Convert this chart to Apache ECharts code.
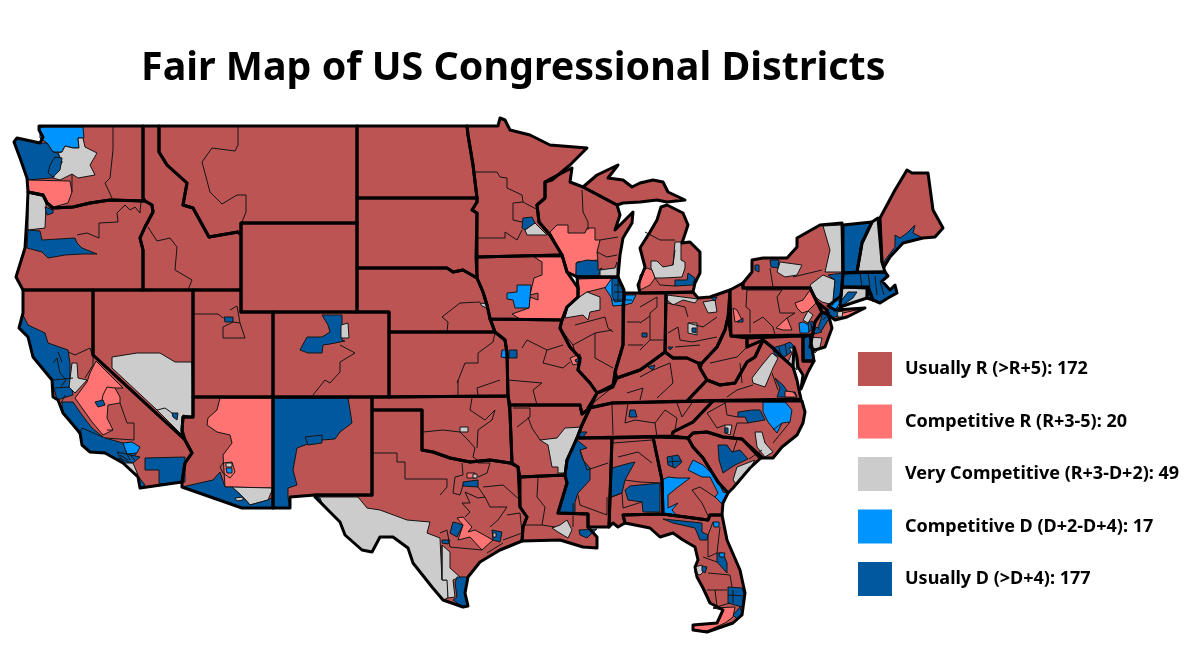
<!DOCTYPE html>
<html>
<head>
<meta charset="utf-8">
<title>Fair Map of US Congressional Districts</title>
<script src="https://cdn.jsdelivr.net/npm/echarts@6/dist/echarts.min.js"></script>
<style>
html, body { margin: 0; background: #fff; }
#main { width: 1200px; height: 650px; }
</style>
</head>
<body>
<div id="main"></div>
<script>
// legend
var bucketLabels = ['Usually R (>R+5)', 'Competitive R (R+3-5)', 'Very Competitive (R+3-D+2)', 'Competitive D (D+2-D+4)', 'Usually D (>D+4)'];
var bucketCounts = [172, 20, 49, 17, 177];
var bucketColors = ['#bc5454', '#ff7373', '#cccccc', '#0094ff', '#00599f'];

// which drawn area falls in which bucket, everything else is Usually R
var competitiveR = ['WA-c', 'CA-v', 'AZ-c', 'WI-c', 'IA-c', 'IL-s', 'MO-s', 'TX-c', 'TX-d', 'MI-c', 'PA-e', 'PA-c', 'PA-w', 'VA-n', 'NY-l', 'FL-s'];
var veryCompetitive = ['WA-g', 'OR-g', 'NV-g', 'CA-g', 'CA-o', 'AZ-s', 'AZ-b', 'AZ-t', 'TX-g', 'TX-h', 'TX-f', 'TX-p', 'OK-g', 'CO-g', 'NE-g', 'MN-g', 'WI-g', 'IL-g', 'AR-g', 'LA-g', 'SC-g', 'NC-g', 'NC-t', 'VA-g', 'MD-g', 'NJ-g', 'PA-g', 'NY-g', 'NY-a', 'NY-c', 'NH-g', 'CT-g', 'NY-i', 'MI-g', 'OH-n', 'OH-e', 'OH-c', 'FL-t'];
var competitiveD = ['WA-n', 'CA-s', 'AZ-d', 'IA-d', 'IL-c', 'KS-d', 'GA-w', 'GA-e', 'GA-s', 'NC-d', 'PA-d', 'NY-h', 'FL-o'];
var usuallyD = ['WA-w', 'WA-s', 'OR-p', 'OR-w', 'UT-b', 'CO-b', 'NV-b', 'CA-n', 'CA-f', 'CA-m', 'CA-l', 'CA-a', 'CA-d', 'CA-i', 'AZ-w', 'NM-b', 'NM-a', 'TX-e', 'TX-r', 'TX-a', 'TX-u', 'TX-y', 'TX-o', 'KS-b', 'MN-b', 'WI-b', 'IL-b', 'MO-b', 'MS-b', 'TN-m', 'LA-b', 'AL-b', 'AL-m', 'GA-a', 'SC-b', 'NC-b', 'NC-u', 'TN-b', 'VA-b', 'DC-b', 'DE-b', 'NY-b', 'NJ-b', 'NJ-s', 'NY-n', 'NY-f', 'NY-r', 'VT-b', 'ME-b', 'MA-b', 'CT-b', 'RI-b', 'MI-b', 'OH-t', 'OH-i', 'IN-b', 'KY-b', 'OH-s', 'FL-n', 'FL-c', 'FL-m', 'FL-l', 'FL-b', 'PA-b'];

// state outlines as flat x,y runs, in the map's own units
var stateOutlines = {
  WA: [39,126,143,126,143,198,145,201,110,200,90,203,73,207,53,208,47,203,43,195,28,192,27,178,20,158,14,142,17,138,40,143,43,137,39,130],
  ID: [143,126,159,126,159,152,167,165,187,183,183,205,193,208,209,237,238,232,241,235,241,290,143,290,143,250,140,238,145,227,153,212,152,205,145,201,143,198],
  MT: [159,126,357,126,357,223,241,223,241,235,238,232,209,237,193,208,183,205,187,183,167,165,159,152],
  WY: [241,223,357,223,357,312,241,312],
  UT: [193,290,241,290,241,312,273,312,273,397,193,397],
  CO: [273,312,389,312,389,397,273,397],
  ND: [357,126,467,126,468,135,473,165,477,198,357,198],
  SD: [357,198,477,198,477,202,472,210,477,213,476,257,477,278,463,270,453,272,447,268,357,268],
  NE: [357,268,447,268,453,272,463,270,477,278,483,292,487,305,490,318,495,332,389,332,389,312,357,312],
  KS: [389,332,495,332,505,340,507,353,508,396,389,397],
  NM: [273,397,372,397,372,495,315,495,290,497,290,508,273,508],
  AZ: [193,397,273,397,273,508,242,508,182,487,182,482,185,463,192,453,185,440,182,430,183,417,193,417],
  NV: [93,290,193,290,193,417,183,417,182,430,182,437,93,355],
  OR: [28,192,43,195,47,203,53,208,73,207,90,203,110,200,145,201,152,205,153,212,145,227,140,238,143,250,143,290,23,290,16,277,25,248,27,215],
  CA: [23,290,93,290,93,355,182,437,185,440,192,453,185,463,182,482,140,488,138,477,123,463,105,453,90,452,82,445,80,433,63,413,58,400,53,397,52,380,33,357,28,337,19,328,23,313,23,303],
  TX: [372,410,422,410,422,450,433,452,450,458,470,462,490,460,510,463,518,467,520,507,527,517,523,527,522,541,500,550,480,562,468,577,465,593,468,606,463,607,443,600,432,587,413,563,408,548,393,537,380,537,372,552,362,550,345,535,340,522,315,497,315,495,372,495],
  OK: [372,397,508,396,510,413,512,463,510,463,490,460,470,462,450,458,433,452,422,450,422,410,372,410],
  MN: [467,126,498,126,500,118,505,120,510,130,530,135,550,145,587,148,570,165,552,180,545,182,545,198,537,205,539,222,550,235,562,255,477,257,477,213,472,210,477,202,477,198,473,165,468,135],
  IA: [477,257,562,255,567,272,578,288,578,297,567,307,562,320,490,319,487,305,483,292,477,278],
  MO: [490,319,562,320,560,328,570,347,580,358,578,370,590,383,597,393,590,408,582,414,580,405,510,405,508,396,507,353,505,340,495,332],
  AR: [510,405,580,405,582,414,590,408,582,425,577,438,567,460,565,475,520,477,518,467,512,463,510,413],
  LA: [520,477,565,475,567,483,558,513,588,514,588,527,597,537,597,548,583,547,560,540,522,541,523,527,527,517,520,507],
  MS: [577,438,612,438,609,527,588,527,588,514,558,513,567,483,565,475,567,460],
  AL: [612,438,653,437,662,480,663,514,623,515,625,523,618,527,613,523,609,527],
  TN: [590,408,612,403,713,401,693,422,673,432,672,436,577,438,582,425],
  IL: [577,277,618,277,624,290,623,345,615,372,613,385,597,393,590,383,578,370,580,358,570,347,560,328,562,320,567,307,578,297,578,288],
  WI: [545,182,552,178,572,168,570,182,583,187,617,205,620,215,615,230,633,212,632,223,623,238,620,255,618,277,577,277,567,272,562,255,550,235,539,222,537,205,545,198],
  'MI-U': [583,187,597,175,618,165,608,178,623,180,632,187,640,183,653,180,663,182,668,192,685,200,667,202,657,200,640,202,623,203,617,205],
  'MI-L': [661,207,667,205,683,213,688,225,682,243,690,242,700,252,700,273,695,283,693,292,640,293,638,285,645,267,640,248,650,232,657,220],
  IN: [625,293,666,293,665,352,650,363,640,370,617,378,615,372,623,345,623,305],
  OH: [666,293,693,292,698,298,710,297,730,290,728,317,725,330,717,347,702,363,698,363,687,358,673,358,665,352],
  KY: [588,408,597,393,613,387,617,378,640,370,650,363,665,352,673,358,687,358,698,363,700,368,707,380,687,401,612,403],
  WV: [728,317,731,336,747,338,747,347,763,340,755,357,747,362,735,383,720,385,707,380,700,368,702,363,717,347,725,330],
  VA: [687,401,707,380,720,385,735,383,747,362,755,357,763,340,773,348,783,358,793,367,797,380,799,390,801,399],
  MD: [747,338,803,336,803,361,814,361,808,372,801,389,803,375,798,367,797,357,794,347,793,367,783,358,773,348,763,340,747,347],
  DE: [803,337,810,335,814,361,803,361],
  PA: [730,290,743,283,743,288,810,288,815,298,822,312,815,322,813,333,811,335,731,336],
  NJ: [817,302,827,310,832,328,825,347,815,350,810,347,813,333,815,322,822,312],
  NY: [743,283,752,272,752,260,763,258,787,258,797,247,797,238,820,225,842,223,843,273,841,296,828,306,835,310,865,308,847,317,835,320,827,314,822,312,815,298,810,288,743,288],
  VT: [843,225,872,222,862,243,857,272,843,273],
  NH: [872,222,878,218,882,262,885,272,857,272,862,243],
  ME: [880,218,895,190,907,170,912,173,928,173,933,210,943,228,935,237,923,238,903,243,890,257,884,267,882,262],
  MA: [843,273,885,272,888,276,882,281,890,290,895,285,897,293,888,298,880,303,873,300,868,287,842,287],
  CT: [842,287,867,288,867,298,840,307,841,296],
  RI: [868,287,873,300,867,298],
  NC: [713,401,802,401,805,412,803,423,797,435,782,447,773,458,760,458,742,439,723,437,707,432,693,433,688,438,672,436,673,432,693,422],
  SC: [688,438,693,433,707,432,723,437,742,439,762,457,750,468,733,488,728,493,718,482,703,458,693,447],
  GA: [653,437,688,438,693,447,703,458,718,482,728,493,723,503,722,515,710,515,708,520,663,514,662,480],
  FL: [623,515,663,514,708,520,710,515,722,515,727,540,740,570,745,593,742,615,733,623,707,632,693,630,693,625,717,623,723,610,710,603,703,588,697,577,695,567,698,560,695,547,683,540,673,533,660,537,650,528,625,523]
};

// areas that are not Usually R, drawn over the states in this order
var districtOutlines = {
  'WA-n': [43,127,83,127,84,138,78,138,79,148,73,148,65,146,62,152,53,152,47,143,40,138,40,128],
  'WA-g': [78,138,83,138,85,147,97,153,90,165,95,175,78,178,72,174,60,180,53,178,62,162,58,153,62,152,65,146,73,148,79,148],
  'WA-w': [17,138,40,143,47,143,53,152,58,153,62,162,53,178,50,178,27,180,20,158,14,142],
  'WA-s': [50,165,55,157,62,158,60,170,53,177,48,173],
  'WA-c': [27,180,70,181,72,192,68,203,50,208,47,203,43,195,28,192],
  'OR-g': [28,193,45,197,46,205,45,228,28,230],
  'OR-p': [45,207,53,210,53,213,47,215],
  'OR-w': [28,230,40,231,42,240,75,238,77,243,82,248,97,254,82,254,65,255,48,258,42,252,27,248],
  'UT-b': [224,317,233,317,233,322,225,322],
  'CO-b': [322,315,342,315,342,340,345,341,330,344,323,345,322,353,308,353,300,350,307,337,322,337,330,332,328,325],
  'CO-g': [341,325,348,323,349,338,341,338],
  'NV-g': [112,357,137,353,160,353,175,362,192,362,193,417,183,415,182,435,157,410,112,368],
  'NV-b': [172,413,178,413,177,420,173,417],
  'CA-n': [23,315,28,325,45,333,48,343,68,350,70,363,70,378,73,395,57,400,52,380,33,357,28,337,19,328],
  'CA-g': [72,363,77,363,78,378,87,380,75,393,69,387],
  'CA-v': [96,361,123,388,115,388,120,397,120,403,108,405,107,418,113,430,103,435,92,422,75,398,87,382,90,373],
  'CA-f': [95,402,103,400,105,405,98,407],
  'CA-m': [62,402,73,402,82,415,92,428,103,437,85,432,80,435,63,413],
  'CA-l': [82,428,105,438,123,443,137,453,125,465,112,457,105,453,90,452,82,445,80,433],
  'CA-s': [123,443,132,442,140,447,137,453,127,454],
  'CA-a': [117,452,140,457,133,463,125,465],
  'CA-o': [123,463,133,463,138,475,131,470],
  'CA-d': [137,475,145,485,140,488],
  'CA-i': [145,458,185,457,185,482,159,484,159,470,145,470],
  'AZ-c': [220,398,273,398,273,488,225,487,223,455,232,443,230,435,217,432,207,425,208,418,217,410],
  'AZ-s': [232,487,273,488,268,500,250,505,243,497],
  'AZ-w': [182,487,213,480,220,472,225,487,232,487,243,497,250,505,268,500,273,497,273,508,242,508],
  'AZ-b': [235,498,243,497,243,500,237,501],
  'AZ-t': [226,463,232,463,232,467,226,467],
  'AZ-d': [226,468,232,468,232,473,227,473],
  'NM-b': [273,398,348,398,350,410,352,423,340,432,335,439,322,440,305,445,297,448,293,470,297,485,288,488,288,498,290,508,273,508],
  'NM-a': [305,437,322,435,322,443,308,445],
  'TX-g': [317,497,358,497,367,508,380,510,407,520,430,522,427,533,440,538,442,580,448,580,448,598,443,600,432,587,413,563,408,548,393,537,380,537,372,552,362,550,345,535,340,522],
  'TX-h': [442,545,450,552,450,568,460,577,453,580,455,597,448,598,447,580,442,580],
  'TX-r': [457,577,467,577,465,593,468,606,463,607,453,600,457,597,455,583],
  'TX-e': [315,496,320,498,322,503,317,500],
  'TX-a': [442,540,450,540,448,544,442,543],
  'TX-c': [457,518,463,517,472,527,468,532,475,530,493,540,482,550,470,537,458,540,463,525],
  'TX-u': [453,522,457,523,463,525,457,537,450,533],
  'TX-y': [463,482,478,480,478,487,463,486],
  'TX-d': [467,473,475,473,475,478,467,478],
  'TX-f': [473,474,477,474,477,478,473,478],
  'TX-o': [492,530,502,532,500,542,493,540],
  'TX-p': [493,533,496,533,496,537,493,537],
  'OK-g': [460,427,468,427,468,432,460,432],
  'NE-g': [480,303,487,304,487,308,482,306],
  'KS-d': [502,350,507,350,507,358,501,357],
  'KS-b': [509,350,517,350,517,358,509,358],
  'MN-b': [523,218,532,217,535,223,525,230,522,228],
  'MN-g': [525,230,535,223,547,235,527,235],
  'WI-c': [550,232,557,225,568,225,568,233,585,233,587,228,595,228,595,240,600,240,597,252,598,260,577,262,576,275,567,272,562,255],
  'WI-b': [576,263,587,260,598,261,598,270,602,268,598,276,576,276],
  'WI-g': [600,270,615,268,617,262,617,277,600,277],
  'IA-c': [534,257,562,257,567,272,578,288,578,297,567,307,562,320,520,319,512,314,529,308,530,297,538,300,538,293,530,295,534,278,542,275,542,262],
  'IL-s': [578,279,613,278,607,287,587,292,578,298,579,288],
  'IA-d': [517,285,531,285,530,297,529,308,515,308,513,300,507,299,507,293,517,292],
  'IL-g': [587,292,600,297,600,310,590,312,588,320,583,315,565,318,568,307,578,298],
  'IL-c': [605,288,612,278,623,285,623,295,636,295,632,303,625,305,613,306,611,297],
  'IL-b': [612,278,618,278,623,292,623,301,615,302,612,295],
  'MO-s': [570,358,580,354,581,363,573,365],
  'MO-b': [575,360,579,358,579,362,576,362],
  'AR-g': [540,440,557,438,565,428,582,427,575,440,565,473,558,473,558,467,552,467,548,445],
  'MS-b': [577,440,587,448,580,450,583,460,590,468,590,480,578,493,575,502,575,513,558,513,567,483,565,475,567,460],
  'TN-m': [580,432,587,432,583,437,578,437],
  'LA-g': [552,528,560,525,567,520,572,530,568,538,558,532],
  'LA-b': [579,530,597,529,590,535,587,538,580,535],
  'AL-b': [609,498,612,468,630,463,635,462,625,480,622,493],
  'AL-m': [625,490,630,486,660,483,660,512,643,512,642,502,628,500],
  'GA-w': [662,480,668,477,677,478,690,478,678,487,668,495,668,508,678,503,672,510,678,517,663,515],
  'GA-e': [688,470,693,460,703,465,717,478,723,492,727,493,723,505,715,497,718,493,710,477,702,477],
  'GA-a': [667,457,678,455,682,462,675,468,668,465],
  'SC-b': [718,445,727,445,732,452,740,450,748,459,735,465,723,473,719,460],
  'SC-g': [737,467,755,460,750,468,737,485,733,480],
  'NC-d': [763,402,785,402,792,410,790,422,782,423,777,433,768,422,763,412],
  'NC-b': [738,412,752,410,760,410,765,420,753,422,748,423,745,417,738,417],
  'NC-g': [755,432,762,432,765,443,773,452,765,457,757,447],
  'NC-t': [725,425,732,425,730,435,725,433],
  'NC-u': [725,428,728,428,728,433,725,433],
  'TN-b': [630,410,635,410,637,417,629,417],
  'VA-b': [775,378,783,385,788,392,795,392,797,397,777,397,780,388],
  'VA-n': [785,391,793,392,797,397,785,397],
  'VA-g': [772,353,778,358,773,368,765,387,753,383,752,378,762,365],
  'DC-b': [772,348,783,345,790,342,795,347,790,353,783,358,775,355],
  'MD-g': [789,348,795,348,797,370,788,362,792,353],
  'DE-b': [803,337,810,336,814,360,804,360],
  'NJ-g': [810,337,822,338,820,347,815,353,811,345],
  'PA-d': [799,323,803,322,813,327,808,333,800,333],
  'PA-g': [803,320,808,311,813,315,808,323],
  'NJ-b': [808,323,812,321,815,327,809,332],
  'PA-e': [795,303,803,300,810,290,816,303,808,311,802,313,797,308],
  'PA-c': [776,328,787,318,792,330,783,330],
  'PA-w': [733,308,737,310,742,320,735,322],
  'PA-b': [737,322,743,318,743,322],
  'NY-n': [819,325,823,313,832,307,843,308,840,315,828,320,822,330,818,332],
  'NJ-s': [810,335,817,327,822,332],
  'NY-h': [830,305,836,297,840,303,835,310],
  'NY-g': [823,226,842,225,842,272,825,272,830,250],
  'NY-a': [810,285,823,275,835,280,833,305,822,302,815,297],
  'NY-b': [828,275,843,273,842,287,840,297,833,300,835,280],
  'NY-f': [755,265,759,265,759,272,755,270],
  'NY-r': [770,260,779,260,778,268,771,267],
  'NY-c': [780,262,802,265,797,275,785,277,777,272],
  'VT-b': [843,225,872,222,862,243,857,272,843,273],
  'NH-g': [872,222,878,218,882,262,885,272,857,272,862,243],
  'ME-b': [885,260,895,247,895,235,900,238,907,233,915,225,913,233,923,238,903,243,890,257,884,267],
  'MA-b': [843,273,885,272,888,276,882,281,890,290,895,285,897,293,888,298,880,303,873,300,868,287,842,287],
  'CT-g': [842,287,867,288,867,298,840,307,841,296],
  'CT-b': [848,292,857,292,853,298,840,307,840,302],
  'RI-b': [868,287,873,300,867,298],
  'NY-l': [843,313,865,308,847,317,835,320],
  'NY-i': [837,312,843,311,842,317,838,317],
  'MI-g': [675,242,681,242,681,260,685,262,685,268,682,277,663,278,655,278,651,268,651,261,657,261,663,267,673,265],
  'MI-c': [647,268,652,270,655,278,650,285,640,290,640,275],
  'MI-b': [675,280,687,280,688,273,695,278,693,285,675,286],
  'OH-n': [667,295,698,299,695,303,683,300,673,305,667,300],
  'OH-e': [703,302,715,300,717,312,708,313],
  'OH-t': [710,297,717,297,715,301],
  'OH-c': [688,323,697,323,697,335,688,333],
  'OH-i': [692,328,696,328,696,333,692,332],
  'IN-b': [642,333,647,333,647,337,642,337],
  'KY-b': [648,367,655,365,653,370],
  'OH-s': [668,347,673,347,670,350],
  'FL-n': [663,519,702,523,702,532,708,535,707,540,700,540,695,528,673,523],
  'GA-s': [713,522,719,522,719,527,714,527],
  'FL-c': [717,553,723,553,727,563,727,573,717,562],
  'FL-o': [719,553,725,553,724,557,720,557],
  'FL-t': [695,567,702,565,705,570,700,575,695,573],
  'FL-b': [702,566,707,567,705,573,702,571],
  'FL-m': [728,587,742,588,744,593,742,607,728,603],
  'FL-s': [713,608,735,607,733,617,725,623,707,631,693,630,693,625,717,623,723,610],
  'FL-l': [733,615,740,607,742,613,737,619]
};

// thin district lines inside the states
var districtLines = [
  [113,127,113,150,110,178,105,183,112,198], [72,174,72,192], [77,235,87,233,99,238,99,223,118,222,117,213,125,205,130,210,135,207,140,213,141,202],
  [148,227,157,241,170,238,177,247,175,270,192,280,188,290], [238,127,238,145,235,151,212,148,202,162,210,192,222,204,237,195,246,195,246,212,242,222],
  [193,314,218,314,223,318], [230,310,237,306,240,323,233,322,223,327,223,338,245,338,240,323],
  [340,345,355,353,340,362,340,372,330,383,325,380,313,395],
  [68,352,75,355,90,348,93,357,93,365,85,378], [53,363,57,358,60,373], [53,380,73,378], [55,388,70,387], [60,373,66,380,60,388], [58,352,62,362],
  [115,388,107,387,103,395,102,400], [120,403,127,423,134,423,134,440,105,438], [107,430,113,430], [157,410,165,408,172,413], [223,463,232,462,235,472,230,478,223,473,220,467,223,463],
  [373,453,397,453,397,462,405,462,405,479,447,479,447,487,440,495], [462,463,463,475,455,477,453,493,460,495,463,485],
  [478,487,485,497,478,498,465,492,470,503,462,503,470,512,465,517], [483,487,503,485,520,500], [485,497,490,507,507,507,498,520,490,527],
  [507,515,520,513,522,533,503,540], [478,463,490,463,487,473,478,477], [440,533,447,530,450,547,482,550], [487,553,503,543], [442,580,442,545],
  [423,432,443,430,460,432,468,440,475,448,473,457,480,462], [472,398,470,410,485,420,495,410,492,420,478,430,477,448],
  [457,383,465,363,478,363,478,353,493,342,495,333], [458,395,458,380], [478,395,477,388,500,380],
  [442,317,460,303,480,302], [442,317,448,322,447,332],
  [475,172,497,172,500,177,507,178,507,188,522,195,523,202,513,203,513,220,522,222], [523,202,538,210], [478,238,505,238,505,232,517,240,522,230],
  [582,190,583,212,588,222,588,230], [600,240,618,237], [597,252,607,257,617,255], [575,325,605,317,608,328,613,332], [563,332,573,345,595,333,612,330], [595,333,595,358,613,368], [573,345,575,353],
  [522,348,527,340,547,350,543,363,563,368,570,362], [547,350,563,345], [508,380,542,383,533,390,537,405],
  [513,408,530,408,530,417,517,427], [528,417,532,428,540,440], [538,478,537,497,545,507,542,525], [525,525,542,525,555,527],
  [580,450,587,470,608,463], [578,495,580,505,607,515,607,497], [573,503,573,527],
  [613,443,652,440], [618,457,638,452,652,463], [625,480,640,482,660,483], [609,498,622,493,623,508,642,502], [692,490,702,503,710,520], [715,497,700,487,692,490],
  [612,405,613,435], [628,403,625,423,635,420,655,423,657,437], [655,423,665,410,677,418,675,430], [677,403,682,417,692,403],
  [707,413,725,403], [725,402,727,415,738,417], [707,413,717,428,725,425], [733,437,737,423,748,423], [773,430,782,423], [773,443,790,422],
  [593,403,613,387], [627,393,643,388,640,400], [640,377,653,370,670,363,673,383,657,398],
  [710,363,737,357,747,347], [727,397,737,390,753,385], [740,363,742,383], [772,373,778,390],
  [667,303,685,307,688,317], [717,317,703,327,688,323], [668,333,678,327,680,340,692,342,717,337], [675,347,700,345],
  [640,307,657,297,657,307,650,313,650,340,663,340], [640,323,650,316], [640,350,650,340], [627,322,640,322], [628,345,643,345],
  [747,288,746,307,750,310,750,333], [747,290,782,290,777,297,780,313,795,313], [753,323,763,317,773,327,775,335], [787,318,795,313],
  [770,268,773,287], [793,277,822,270], [645,232,660,240,675,240], [675,250,673,265], [655,278,660,285,675,286],
  [713,522,708,535,708,557,717,553], [703,557,717,562], [708,573,730,575,732,587], [707,590,727,590], [715,590,717,607], [720,527,717,553], [730,603,713,608],
  [733,452,737,440], [749,459,762,450], [65,395,60,405],
  [120,455,128,460], [125,450,130,460], [130,455,135,460], [118,458,132,463],
  [614,285,622,285], [614,292,623,292], [618,280,618,300], [612,300,632,300],
  [860,273,862,287], [875,276,877,295], [880,281,884,295], [868,273,870,287],
  [672,457,673,467], [667,462,681,461], [733,590,733,603], [728,595,743,596],
  [779,347,781,357], [785,344,787,355], [823,320,830,312], [828,315,834,318], [811,323,812,331]
];

function pairs(run) {
  var out = [];
  for (var i = 0; i < run.length; i += 2) out.push([run[i], run[i + 1]]);
  return out;
}

function feature(name, run) {
  var ring = pairs(run);
  ring.push(ring[0].slice());
  return { type: 'Feature', properties: { name: name }, geometry: { type: 'Polygon', coordinates: [ring] } };
}

var features = [];
var seriesData = [];
Object.keys(stateOutlines).forEach(function (name) {
  features.push(feature(name, stateOutlines[name]));
  seriesData.push({ name: name, value: 0 });
});
[[], competitiveR, veryCompetitive, competitiveD, usuallyD].forEach(function (names, bucket) {
  names.forEach(function (name) { seriesData.push({ name: name, value: bucket }); });
});
Object.keys(districtOutlines).forEach(function (name) {
  features.push(feature(name, districtOutlines[name]));
});

echarts.registerMap('usFair', { type: 'FeatureCollection', features: features });

// the map's units are the page's pixels, so fit the view to the outline box
var xs = [], ys = [];
Object.keys(stateOutlines).forEach(function (name) {
  pairs(stateOutlines[name]).forEach(function (p) { xs.push(p[0]); ys.push(p[1]); });
});
var minX = Math.min.apply(null, xs), maxX = Math.max.apply(null, xs);
var minY = Math.min.apply(null, ys), maxY = Math.max.apply(null, ys);

var myChart = echarts.init(document.getElementById('main'));

var option = {
  backgroundColor: '#fff',
  animation: false,
  title: {
    text: 'Fair Map of US Congressional Districts',
    left: 136,
    top: 44,
    textStyle: { fontFamily: 'Noto Sans', fontWeight: 'bold', fontSize: 39.4, color: '#000' }
  },
  visualMap: {
    type: 'piecewise',
    left: 858,
    top: 352,
    orient: 'vertical',
    align: 'left',
    inverse: true,
    itemWidth: 34,
    itemHeight: 34,
    itemGap: 18.5,
    itemSymbol: 'rect',
    textGap: 13,
    padding: 0,
    selectedMode: false,
    hoverLink: false,
    seriesIndex: 0,
    textStyle: { fontFamily: 'Noto Sans', fontWeight: 'bold', fontSize: 18, color: '#000' },
    pieces: bucketLabels.map(function (label, i) {
      return { value: i, label: label + ': ' + bucketCounts[i], color: bucketColors[i] };
    })
  },
  geo: {
    map: 'usFair',
    silent: true,
    roam: false,
    projection: {
      project: function (p) { return p; },
      unproject: function (p) { return p; }
    },
    layoutCenter: [(minX + maxX) / 2, (minY + maxY) / 2],
    layoutSize: maxX - minX,
    itemStyle: { areaColor: bucketColors[0], borderColor: '#141414', borderWidth: 1 },
    label: { show: false }
  },
  series: [
    {
      type: 'map',
      geoIndex: 0,
      silent: true,
      data: seriesData
    },
    {
      type: 'lines',
      coordinateSystem: 'geo',
      polyline: true,
      silent: true,
      lineStyle: { color: '#141414', width: 1, opacity: 1 },
      data: districtLines.map(function (run) { return { coords: pairs(run) }; })
    },
    {
      type: 'lines',
      coordinateSystem: 'geo',
      polyline: true,
      silent: true,
      z: 5,
      lineStyle: { color: '#000', width: 3, opacity: 1, join: 'round', cap: 'round' },
      data: Object.keys(stateOutlines).map(function (name) {
        var ring = pairs(stateOutlines[name]);
        ring.push(ring[0]);
        return { coords: ring };
      })
    }
  ]
};

myChart.setOption(option);
</script>
</body>
</html>
